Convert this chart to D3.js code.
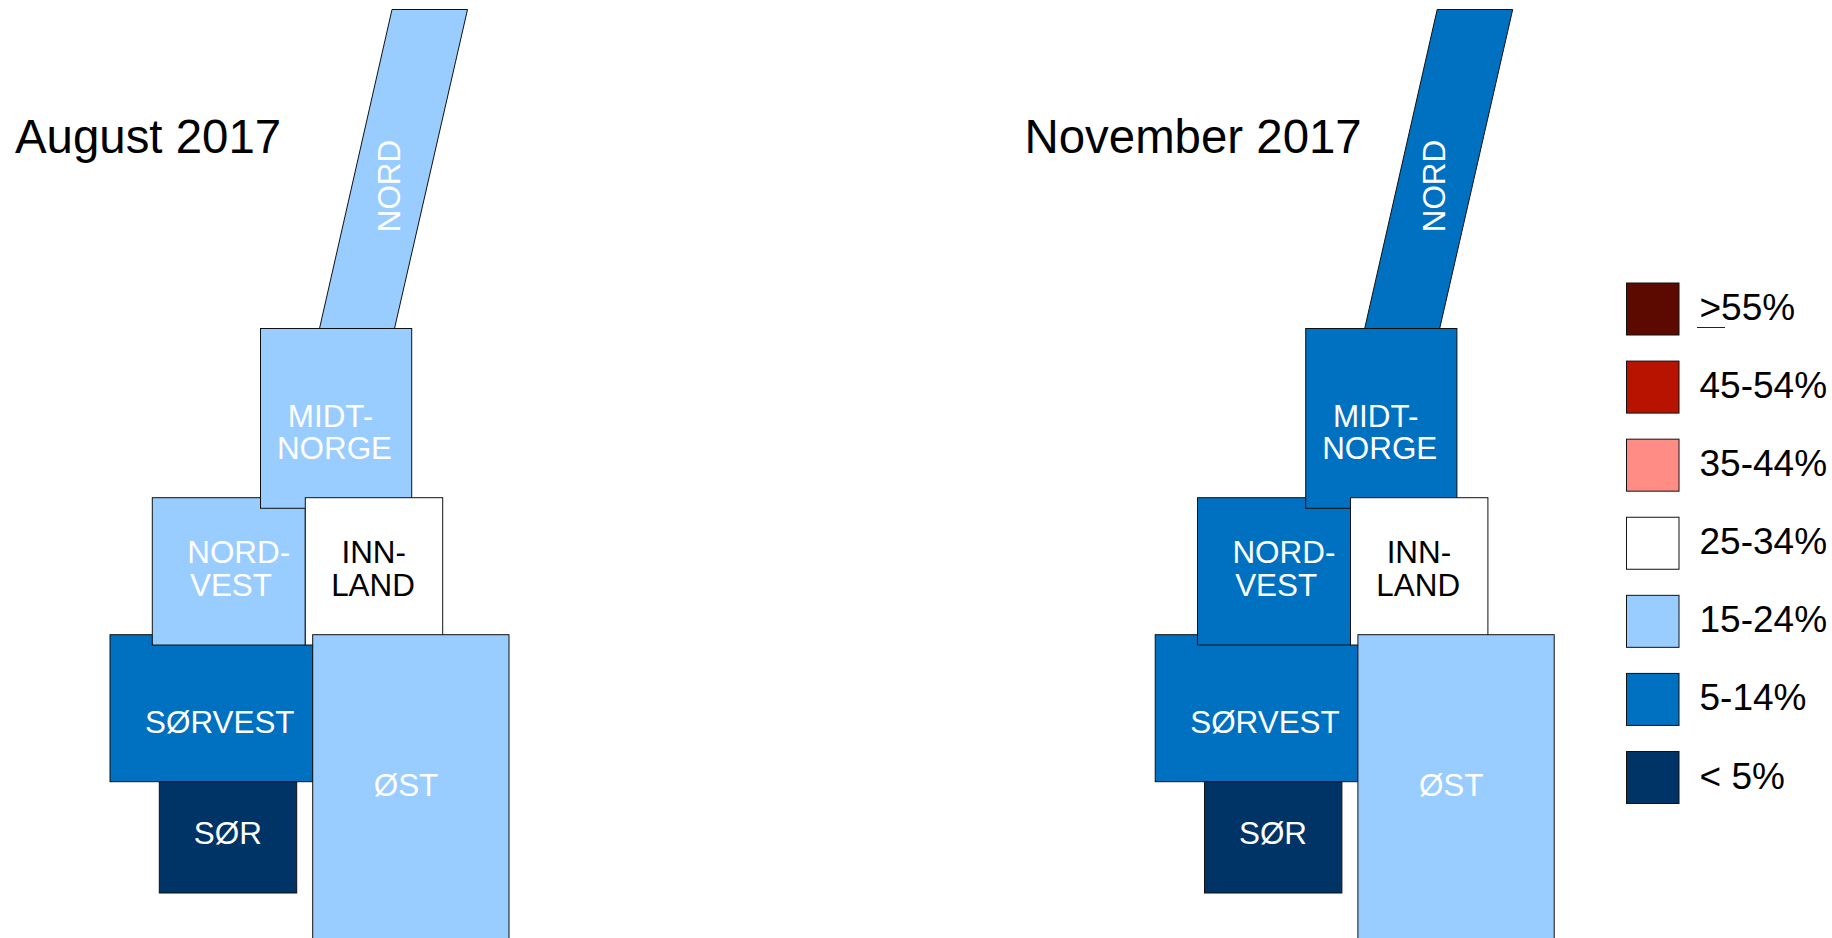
<!DOCTYPE html>
<html>
<head>
<meta charset="utf-8">
<script src="https://cdn.jsdelivr.net/npm/d3@7"></script>
<style>
  html, body { margin: 0; padding: 0; background: #fff; overflow: hidden; }
  svg { display: block; }
  text { font-family: "Liberation Sans", Arial, sans-serif; }
</style>
</head>
<body>
<div id="chart"></div>
<script>
// Share classes, top of the legend first
const classes = [">55%", "45-54%", "35-44%", "25-34%", "15-24%", "5-14%", "< 5%"];
const classColors = ["#5c0a00", "#b81200", "#ff8d85", "#ffffff", "#99ccff", "#0070c0", "#003366"];

// Regions in drawing order (later ones overlap earlier ones)
const regions = ["NORD", "SØRVEST", "NORD-VEST", "MIDT-NORGE", "INNLAND", "ØST", "SØR"];
const august2017 = ["15-24%", "5-14%", "15-24%", "15-24%", "25-34%", "15-24%", "< 5%"];
const november2017 = ["5-14%", "5-14%", "5-14%", "5-14%", "25-34%", "15-24%", "< 5%"];

const panels = [
  {title: "August 2017", values: august2017, titleX: 15, offset: 0},
  {title: "November 2017", values: november2017, titleX: 1024.5, offset: 1045.2}
];

const width = 1832, height = 938;

// Schematic map layout, in panel units
const boxes = {
  "SØRVEST": [110, 634.7, 312.7, 781.7],
  "NORD-VEST": [152.3, 497.7, 305.3, 645],
  "MIDT-NORGE": [260.5, 328.5, 411.7, 508.3],
  "INNLAND": [305.3, 497.7, 442.7, 645],
  "ØST": [312.7, 634.7, 509, 960],
  "SØR": [159.3, 781.7, 296.7, 893]
};
const nordShape = [[392, 9.5], [467.5, 9.5], [394.5, 328.5], [319.5, 328.5]];

// Label lines: text, centre x, baseline y
const labels = {
  "SØRVEST": [["SØRVEST", 219.8, 732.7]],
  "NORD-VEST": [["NORD-", 238.7, 563.3], ["VEST", 231, 595.6]],
  "MIDT-NORGE": [["MIDT-", 330.5, 427], ["NORGE", 334.5, 459]],
  "INNLAND": [["INN-", 373.7, 563.3], ["LAND", 373, 595.6]],
  "ØST": [["ØST", 406, 795.7]],
  "SØR": [["SØR", 227.8, 844]]
};

const color = d3.scaleOrdinal().domain(classes).range(classColors);
const labelColor = c => c === "25-34%" ? "#000" : "#fff";

const svg = d3.select("#chart").append("svg")
  .attr("width", width)
  .attr("height", height);

panels.forEach(panel => {
  const x = d3.scaleLinear().domain([0, width]).range([panel.offset, panel.offset + width]);
  const y = d3.scaleLinear().domain([0, height]).range([0, height]);
  const valueOf = name => panel.values[regions.indexOf(name)];
  const g = svg.append("g");

  g.append("text")
    .attr("x", panel.titleX)
    .attr("y", 153)
    .attr("font-size", 47.4)
    .attr("fill", "#000")
    .text(panel.title);

  // Nord is the slanted strip, the rest are plain boxes
  const line = d3.line().x(d => x(d[0])).y(d => y(d[1])).curve(d3.curveLinearClosed);
  g.append("path")
    .attr("d", line(nordShape))
    .attr("fill", color(valueOf("NORD")))
    .attr("stroke", "#111")
    .attr("stroke-width", 1);

  regions.filter(r => r !== "NORD").forEach(name => {
    const b = boxes[name];
    g.append("rect")
      .attr("x", x(b[0]))
      .attr("y", y(b[1]))
      .attr("width", x(b[2]) - x(b[0]))
      .attr("height", y(b[3]) - y(b[1]))
      .attr("fill", color(valueOf(name)))
      .attr("stroke", "#111")
      .attr("stroke-width", 1);
  });

  // labels go on top of all boxes
  regions.filter(r => r !== "NORD").forEach(name => {
    labels[name].forEach(l => {
      g.append("text")
        .attr("x", x(l[1]))
        .attr("y", y(l[2]))
        .attr("text-anchor", "middle")
        .attr("font-size", 31.4)
        .attr("fill", labelColor(valueOf(name)))
        .text(l[0]);
    });
  });

  const nx = x(399.6), ny = y(186);
  g.append("text")
    .attr("transform", `translate(${nx},${ny}) rotate(-90)`)
    .attr("text-anchor", "middle")
    .attr("font-size", 31.4)
    .attr("fill", labelColor(valueOf("NORD")))
    .text("NORD");
});

// Legend
const legendY = d3.scalePoint().domain(classes).range([283, 751.5]);
const legend = svg.append("g");

legend.selectAll("rect")
  .data(classes)
  .join("rect")
  .attr("x", 1626.5)
  .attr("y", d => legendY(d))
  .attr("width", 52.5)
  .attr("height", 52)
  .attr("fill", d => color(d))
  .attr("stroke", "#111")
  .attr("stroke-width", 1);

legend.selectAll("text")
  .data(classes)
  .join("text")
  .attr("x", 1699.5)
  .attr("y", d => legendY(d) + 37)
  .attr("font-size", 37)
  .attr("fill", "#000")
  .text(d => d);

// the ">" in the top class is underlined
legend.append("line")
  .attr("x1", 1697)
  .attr("x2", 1725)
  .attr("y1", 327.5)
  .attr("y2", 327.5)
  .attr("stroke", "#222")
  .attr("stroke-width", 1);
</script>
</body>
</html>
